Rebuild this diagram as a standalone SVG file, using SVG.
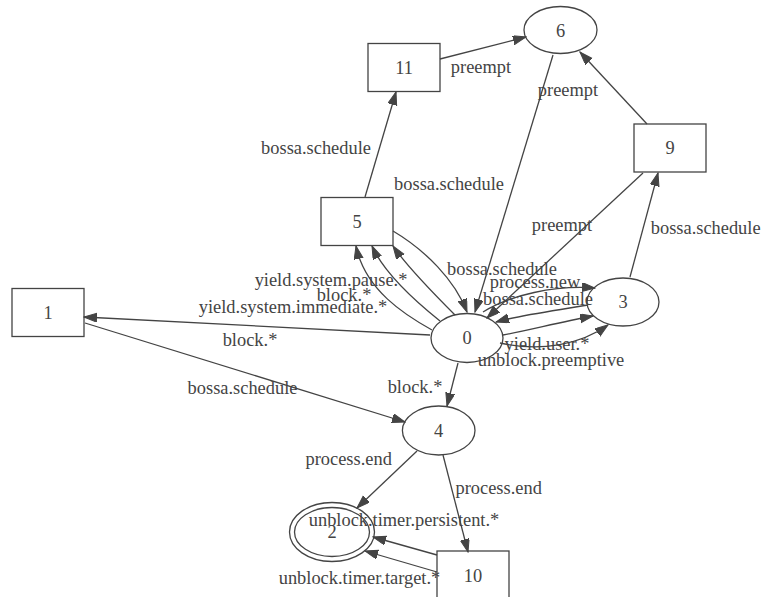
<svg xmlns="http://www.w3.org/2000/svg" width="762" height="597" viewBox="0 0 762 597">
<style>
.n{fill:none;stroke:#444;stroke-width:1.3}
.e{fill:none;stroke:#444;stroke-width:1.3;marker-end:url(#ah)}
text{font-family:"Liberation Serif","Times New Roman",serif;font-size:18.4px;fill:#444;text-anchor:middle}
</style>
<defs>
<marker id="ah" markerUnits="userSpaceOnUse" markerWidth="14" markerHeight="10" refX="13" refY="4.5" orient="auto">
<path d="M0,0 L13,4.5 L0,9 z" fill="#444" stroke="#444" stroke-width="1"/>
</marker>
</defs>
<rect width="762" height="597" fill="#fff"/>
<g id="connectors">
<path class="e" d="M440,59 L526,37"/>
<path class="e" d="M365,197 L396,92"/>
<path class="e" d="M553,55 L475,312"/>
<path class="e" d="M647,124 L580,52"/>
<path class="e" d="M643,173 L487,318"/>
<path class="e" d="M630,277 L658,173"/>
<path class="e" d="M393,231 C425,250 455,280 467,312"/>
<path class="e" d="M432,330 C405,315 365,290 356,246"/>
<path class="e" d="M440,321 C420,305 385,275 372,246"/>
<path class="e" d="M455,315 C440,300 408,268 393,246"/>
<path class="e" d="M483,312 C510,295 555,285 595,288"/>
<path class="e" d="M588,305 C560,310 520,315 496,322"/>
<path class="e" d="M503,335 C530,330 560,322 593,316"/>
<path class="e" d="M500,343 C540,352 580,345 608,325"/>
<path class="e" d="M430,335 L84,317"/>
<path class="e" d="M85,323 L405,422"/>
<path class="e" d="M458,363 L447,406"/>
<path class="e" d="M417,451 L357,508"/>
<path class="e" d="M443,455 L468,552"/>
<path class="e" d="M437,555 L373,537"/>
<path class="e" d="M437,572 L365,551"/>
<text x="481" y="73">preempt</text>
<text x="316" y="154">bossa.schedule</text>
<text x="449" y="190">bossa.schedule</text>
<text x="568" y="96">preempt</text>
<text x="562" y="231">preempt</text>
<text x="705.7" y="234">bossa.schedule</text>
<text x="502" y="275">bossa.schedule</text>
<text x="535" y="288">process.new</text>
<text x="538" y="305">bossa.schedule</text>
<text x="331" y="286">yield.system.pause.*</text>
<text x="344" y="301">block.*</text>
<text x="293" y="313">yield.system.immediate.*</text>
<text x="250" y="346">block.*</text>
<text x="547" y="350">yield.user.*</text>
<text x="551" y="366">unblock.preemptive</text>
<text x="242.5" y="394">bossa.schedule</text>
<text x="415" y="393">block.*</text>
<text x="348.7" y="465">process.end</text>
<text x="498.7" y="494">process.end</text>
<text x="404" y="526">unblock.timer.persistent.*</text>
<text x="359.5" y="584">unblock.timer.target.*</text>
</g>
<g id="node6"><ellipse class="n" cx="560.5" cy="30" rx="36.5" ry="23.5"/><text x="560.5" y="37">6</text></g>
<g id="node11"><rect class="n" x="368" y="43.5" width="72" height="48"/><text x="404" y="74">11</text></g>
<g id="node9"><rect class="n" x="634" y="124" width="72" height="48"/><text x="670" y="154">9</text></g>
<g id="node5"><rect class="n" x="321" y="197.5" width="72" height="48"/><text x="357" y="228">5</text></g>
<g id="node1"><rect class="n" x="12" y="288.5" width="72" height="48"/><text x="48" y="319">1</text></g>
<g id="node0"><ellipse class="n" cx="467" cy="338" rx="36" ry="24.5"/><text x="467" y="344">0</text></g>
<g id="node3"><ellipse class="n" cx="623" cy="302" rx="36" ry="24"/><text x="623" y="308">3</text></g>
<g id="node4"><ellipse class="n" cx="438.7" cy="430.5" rx="36.3" ry="24.5"/><text x="438.7" y="437">4</text></g>
<g id="node2"><ellipse class="n" cx="332" cy="532" rx="37.5" ry="24.5"/><ellipse class="n" cx="332" cy="532" rx="42.5" ry="29.5"/><text x="332" y="538">2</text></g>
<g id="node10"><rect class="n" x="437" y="551" width="72" height="48"/><text x="473" y="582">10</text></g>
</svg>
